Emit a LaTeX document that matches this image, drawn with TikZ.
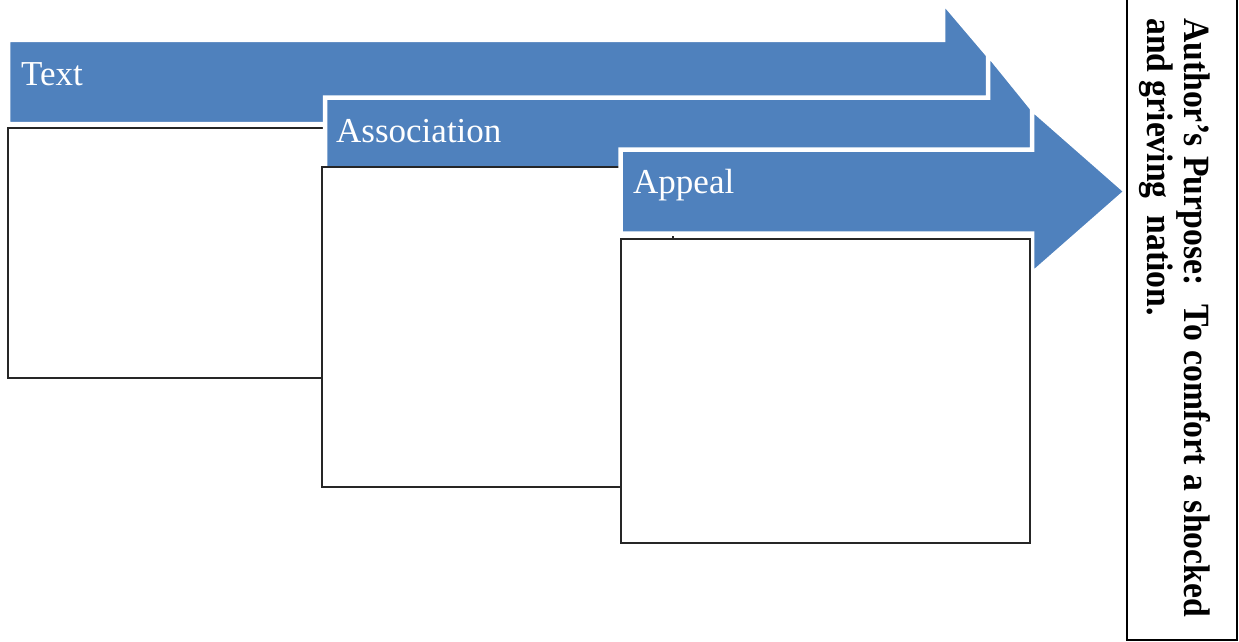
\documentclass[tikz,border=0pt]{standalone}
\usepackage{fontspec}
\usepackage{graphicx}
\setmainfont{Liberation Serif}
\definecolor{arrowblue}{HTML}{4F81BD}
\begin{document}
\begin{tikzpicture}[x=1pt,y=-1pt,
  bigarrow/.style={fill=arrowblue,draw=white,line width=4.5pt,line join=miter},
  emptybox/.style={fill=white,draw=black!85,line width=1.3pt},
  arrowlabel/.style={text=white,anchor=base west,inner sep=0pt,font=\fontsize{35}{40}\selectfont},
  purpose/.style={rotate=-90,anchor=base west,inner sep=0pt,font=\bfseries\fontsize{37}{41}\selectfont}]
\useasboundingbox (0,0) rectangle (1239,642);
\clip (0,0) rectangle (1239,642);
% arrow 1 and box 1
\draw[bigarrow] (8,40) -- (943,40) -- (943,2) -- (1011,82) -- (943,162) -- (943,124) -- (8,124) -- cycle;
\node[arrowlabel] (t1) at (21,85) {Text};
\draw[emptybox] (8,128) rectangle (500,378);
% arrow 2 and box 2
\draw[bigarrow] (325,97.5) -- (988,97.5) -- (988,54) -- (1052,133) -- (988,212) -- (988,169) -- (325,169) -- cycle;
\node[arrowlabel] (t2) at (336,142) {Association};
\draw[emptybox] (322,167) rectangle (673,487);
% arrow 3 and box 3
\draw[bigarrow] (620.5,149.5) -- (1032,149.5) -- (1032,109) -- (1126,191.5) -- (1032,274) -- (1032,233.5) -- (620.5,233.5) -- cycle;
\node[arrowlabel] (t3) at (633,193) {Appeal};
\draw[emptybox] (621,239) rectangle (1030,543);
% purpose box
\draw[black,line width=2pt] (1127,-5) -- (1127,640) -- (1237,640) -- (1237,-5);
\node[purpose] (p1) at (1184,18) {\scalebox{0.91}[1]{\makebox[658pt][s]{Author’s Purpose:\ \ To comfort a shocked}}};
\node[purpose] (p2) at (1147,18) {\scalebox{0.91}[1]{and grieving\ \ nation.}};
\end{tikzpicture}
\end{document}
